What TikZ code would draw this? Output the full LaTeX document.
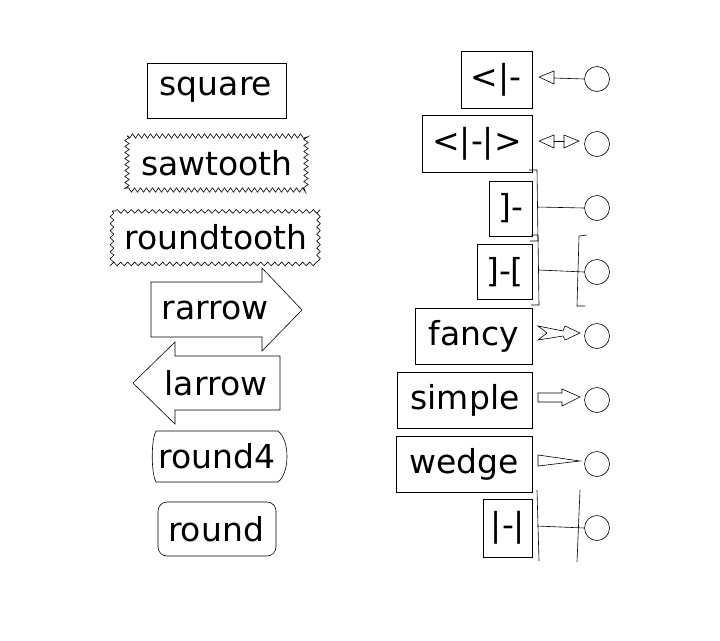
\documentclass[tikz,border=0pt]{standalone}
\usepackage{fontspec}
\setmainfont{DejaVu Sans}
\usetikzlibrary{decorations.pathmorphing}
\begin{document}
\begin{tikzpicture}[x=1pt,y=-1pt,
  lbl/.style={font=\fontsize{33}{36}\selectfont, inner sep=0pt, anchor=center},
  bx/.style={draw, line width=0.6pt},
  cir/.style={draw, circle, minimum size=25pt, inner sep=0pt, line width=0.6pt},
  ln/.style={line width=0.6pt}]
\useasboundingbox (0,0) rectangle (720,640);
% left boxes
\draw[bx] (147,63) rectangle (286,118);
\node[lbl] (sq) at (216,90) {square};
\draw[bx, decorate, decoration={zigzag, segment length=6pt, amplitude=2.2pt}] (127,136) rectangle (306,190);
\node[lbl] (saw) at (217,163) {sawtooth};
\draw[bx, decorate, decoration={snake, segment length=7pt, amplitude=1.8pt}] (112,211) rectangle (321,263);
\node[lbl] (rt) at (216,237) {roundtooth};
\draw[bx] (151,282) -- (262,282) -- (262,268) -- (302,310) -- (262,351) -- (262,337) -- (151,337) -- cycle;
\node[lbl] (ra) at (215,310) {rarrow};
\draw[bx] (280,356) -- (175,356) -- (175,342) -- (133,383) -- (175,424) -- (175,410) -- (280,410) -- cycle;
\node[lbl] (la) at (216,383) {larrow};
\draw[bx] (156,431) .. controls (151,440) and (151,473) .. (156,482) -- (278,482) .. controls (290,473) and (290,440) .. (278,431) -- cycle;
\node[lbl] (r4) at (217,456) {round4};
\draw[bx, rounded corners=9pt] (158,502) rectangle (276,556);
\node[lbl] (rd) at (216,529) {round};
% right boxes
\node[lbl] (t1) at (496,80) {<|-};
\draw[bx] (461,51) rectangle (532,108);
\node[lbl] (t2) at (477,144) {<|-|>};
\draw[bx] (422,115) rectangle (532,172);
\node[lbl] (t3) at (511,208) {]-};
\draw[bx] (489,181) rectangle (532,236);
\node[lbl] (t4) at (505,272) {]-[};
\draw[bx] (477,244) rectangle (532,299);
\node[lbl] (t5) at (474,336) {fancy};
\draw[bx] (415,308) rectangle (532,364);
\node[lbl] (t6) at (465,400) {simple};
\draw[bx] (397,372) rectangle (532,428);
\node[lbl] (t7) at (464,464) {wedge};
\draw[bx] (396,436) rectangle (532,492);
\node[lbl] (t8) at (508,528) {|-|};
\draw[bx] (483,499) rectangle (532,557);
% circles
\foreach \i/\y in {1/79,2/144,3/208,4/272,5/336,6/400,7/464,8/528}
  \node[cir] (c\i) at (597,\y) {};
% connectors
\draw[ln] (c1.west) -- (554,78);
\draw[ln] (554,78) -- (554,71) -- (539,77) -- (554,84) -- cycle;
\draw[ln] (554,141) -- (564,141);
\draw[ln] (554,141) -- (554,135) -- (539,141) -- (554,148) -- cycle;
\draw[ln] (564,141) -- (564,135) -- (579,141) -- (564,148) -- cycle;
\draw[ln] (c3.west) -- (537,207);
\draw[ln] (529,170) -- (537,170) -- (538,241) -- (530,241);
\draw[ln] (c4.west) -- (539,270);
\draw[ln] (531,235) -- (538,235) -- (539,305) -- (531,305);
\draw[ln] (587,235) -- (579,236) -- (577,306) -- (585,306);
\draw[ln] (538,326) -- (563,331) -- (565,326) -- (580,333) -- (565,340) -- (563,336) -- (538,340) -- (547,333) -- cycle;
\draw[ln] (538,393) -- (562,393) -- (562,389) -- (580,397) -- (562,406) -- (562,402) -- (538,402) -- cycle;
\draw[ln] (538,455) -- (580,461) -- (538,466) -- cycle;
\draw[ln] (537,526) -- (c8.west);
\draw[ln] (537,490) -- (539,561);
\draw[ln] (580,490) -- (577,562);
\end{tikzpicture}
\end{document}
